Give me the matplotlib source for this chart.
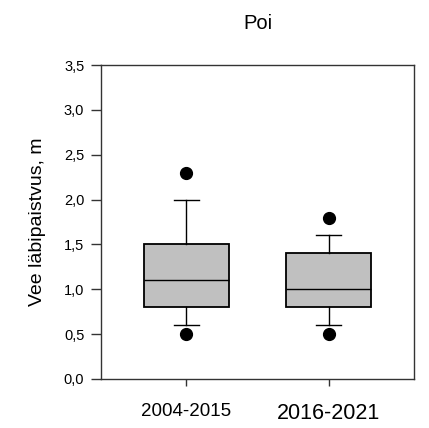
import matplotlib
matplotlib.use("Agg")
import matplotlib.pyplot as plt
from matplotlib.ticker import FuncFormatter

plt.rcParams['font.family'] = ['Liberation Sans', 'DejaVu Sans']

# box statistics
periods = ["2004-2015", "2016-2021"]
q1 = [0.8, 0.8]
median = [1.1, 1.0]
q3 = [1.5, 1.4]
whisker_low = [0.6, 0.6]
whisker_high = [2.0, 1.6]
outliers = [[2.3, 0.5], [1.8, 0.5]]
yticks = [0.0, 0.5, 1.0, 1.5, 2.0, 2.5, 3.0, 3.5]

stats = []
for i in range(len(periods)):
    stats.append({"label": periods[i], "q1": q1[i], "med": median[i], "q3": q3[i],
                  "whislo": whisker_low[i], "whishi": whisker_high[i], "fliers": outliers[i]})

fig = plt.figure(figsize=(4.29, 4.28), dpi=100)
ax = fig.add_axes([0.2354, 0.1145, 0.7296, 0.7336])

ax.bxp(stats, positions=[1, 2], widths=0.6, patch_artist=True, capwidths=0.18,
       boxprops=dict(facecolor="#c0c0c0", edgecolor="black", linewidth=1.3),
       medianprops=dict(color="black", linewidth=1.0),
       whiskerprops=dict(color="black", linewidth=1.0),
       capprops=dict(color="black", linewidth=1.0),
       flierprops=dict(marker="o", markerfacecolor="black", markeredgecolor="black", markersize=8.5))

ax.set_xlim(0.4, 2.6)
ax.set_ylim(0, 3.5)
ax.set_yticks(yticks)
ax.yaxis.set_major_formatter(FuncFormatter(lambda v, p: f"{v:.1f}".replace(".", ",")))
ax.set_xticks([1, 2])
ax.set_xticklabels(periods)
ax.xaxis.get_ticklabels()[0].set_fontsize(13.5)
ax.xaxis.get_ticklabels()[1].set_fontsize(15.5)

ax.tick_params(axis="y", direction="out", length=7, width=1, pad=5, labelsize=10.5, color="#333333")
ax.tick_params(axis="x", direction="out", length=5, width=1, pad=12, color="#333333")
for s in ax.spines.values():
    s.set_color("#333333")
    s.set_linewidth(1.0)

ax.set_ylabel("Vee läbipaistvus, m", fontsize=14, labelpad=13)
ax.set_title("Poi", fontsize=14.5, pad=26)

fig.savefig("out.png", dpi=100)
